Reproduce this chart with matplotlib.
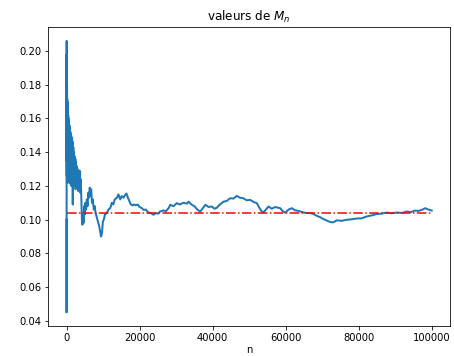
import matplotlib
matplotlib.use("Agg")
import matplotlib.pyplot as plt

# running mean M_n
n_vals = [
    0, 5, 30, 45, 60, 75, 90, 110, 130, 150, 170, 195, 220, 245, 270, 300,
    330, 360, 390, 420, 450, 485, 520, 560, 600, 640, 680, 720, 760, 805,
    850, 900, 950, 1000, 1050, 1100, 1150, 1200, 1250, 1300, 1350, 1400,
    1450, 1500, 1550, 1600, 1650, 1700, 1750, 1800, 1850, 1900, 1950, 2025,
    2100, 2175, 2250, 2325, 2400, 2475, 2550, 2625, 2700, 2775, 2850, 2925,
    3000, 3150, 3300, 3450, 3600, 3750,
    3900, 4050, 4200, 4350, 4500, 4650, 4800, 4950, 5150, 5350, 5550, 5750,
    5950, 6150, 6350, 6550, 6750, 6950, 7200, 7450, 7700, 7950, 8200, 8450,
    8700, 8950, 9200, 9450, 9700, 9950,
    10200, 10500, 11000, 11500, 12000, 12400, 12800, 13200, 13800, 14200,
    14700, 15100, 15600, 16000, 16400, 16800, 17200, 17600, 18000, 18500,
    19000, 19500, 20000, 20500, 21100, 21700, 22400, 23000, 23800, 24500,
    25000, 25600, 26500, 27200, 28000, 28400, 29300, 30200, 31000, 32000,
    33000, 33400, 34300, 35000, 35800, 36600, 37200, 38000, 38900, 39800,
    40500, 41100, 42000, 43000, 43800, 44800, 45700, 46600, 47500, 48400,
    49300, 50300, 51200, 52100, 52800, 53400, 53900, 54600, 55300, 56200,
    57100, 58500, 59200, 59900, 60800, 61700, 62600, 63500, 64500, 65500,
    66700, 67500, 68500, 69400, 70300, 71200, 72200, 73000, 74000, 75300,
    76700, 78000, 79500, 80800, 82200, 83500, 84900, 86300, 87700, 89000,
    90400, 91800, 93200, 94300, 95400, 96300, 97300, 98200, 99100, 100000,
]
m_vals = [
    0.100, 0.045, 0.206, 0.135, 0.198, 0.126, 0.190, 0.122, 0.180, 0.128,
    0.172, 0.124, 0.170, 0.130, 0.168, 0.123, 0.165, 0.127, 0.164, 0.122,
    0.162, 0.126, 0.160, 0.124, 0.159, 0.128, 0.158, 0.123, 0.156, 0.126,
    0.155, 0.122, 0.153, 0.127, 0.152, 0.121, 0.150, 0.125, 0.150, 0.120,
    0.149, 0.124, 0.148, 0.121, 0.147, 0.123, 0.146, 0.109, 0.144, 0.120,
    0.143, 0.123, 0.140, 0.121, 0.138, 0.120, 0.137, 0.122, 0.136, 0.118,
    0.134, 0.121, 0.132, 0.119, 0.131, 0.121, 0.130, 0.117, 0.128, 0.122,
    0.129, 0.116,
    0.124, 0.112, 0.100, 0.097, 0.104, 0.098, 0.108, 0.103, 0.110, 0.106,
    0.112, 0.108, 0.116, 0.113, 0.119, 0.114, 0.118, 0.110, 0.112, 0.106,
    0.108, 0.104, 0.102, 0.100, 0.098, 0.096, 0.093, 0.090, 0.092, 0.099,
    0.100, 0.103, 0.104, 0.106, 0.107, 0.110, 0.109, 0.112, 0.113, 0.115,
    0.112, 0.114, 0.113, 0.1145, 0.1155, 0.113, 0.111, 0.109, 0.1085, 0.109,
    0.1085, 0.109, 0.1075, 0.107, 0.1058, 0.106, 0.1042, 0.104, 0.1029, 0.104,
    0.1035, 0.1048, 0.1055, 0.105, 0.107, 0.1088, 0.108, 0.1098, 0.109, 0.110,
    0.1095, 0.1107, 0.1088, 0.108, 0.106, 0.1048, 0.1065, 0.1088, 0.1075, 0.1078,
    0.1065, 0.107, 0.109, 0.1107, 0.111, 0.1127, 0.1125, 0.1141, 0.113, 0.1127,
    0.1115, 0.1117, 0.1105, 0.1098, 0.107, 0.105, 0.1043, 0.106, 0.1078, 0.1065,
    0.1075, 0.1068, 0.105, 0.1042, 0.106, 0.1068, 0.1055, 0.1052, 0.1045, 0.104,
    0.1039, 0.1035, 0.1023, 0.1015, 0.1004, 0.0995, 0.0986, 0.0984, 0.0996, 0.0993,
    0.0999, 0.1002, 0.1007, 0.1008, 0.1019, 0.1025, 0.1033, 0.1036, 0.1042, 0.1038,
    0.1042, 0.104, 0.1048, 0.1045, 0.1054, 0.1052, 0.1058, 0.1068, 0.106, 0.1054,
]
limit_val = 0.104
n_max = 100000

fig = plt.figure(figsize=(454 / 72, 356 / 72), dpi=72)
ax = fig.add_axes([48.3 / 454, 30 / 356, 401.7 / 454, 298.7 / 356])
ax.plot(n_vals, m_vals, linewidth=2)
ax.hlines(limit_val, 0, n_max, colors="r", linestyles="-.")
ax.set_title("valeurs de $M_n$")
ax.set_xlabel("n", labelpad=2)
fig.savefig("out.png", dpi=72)
